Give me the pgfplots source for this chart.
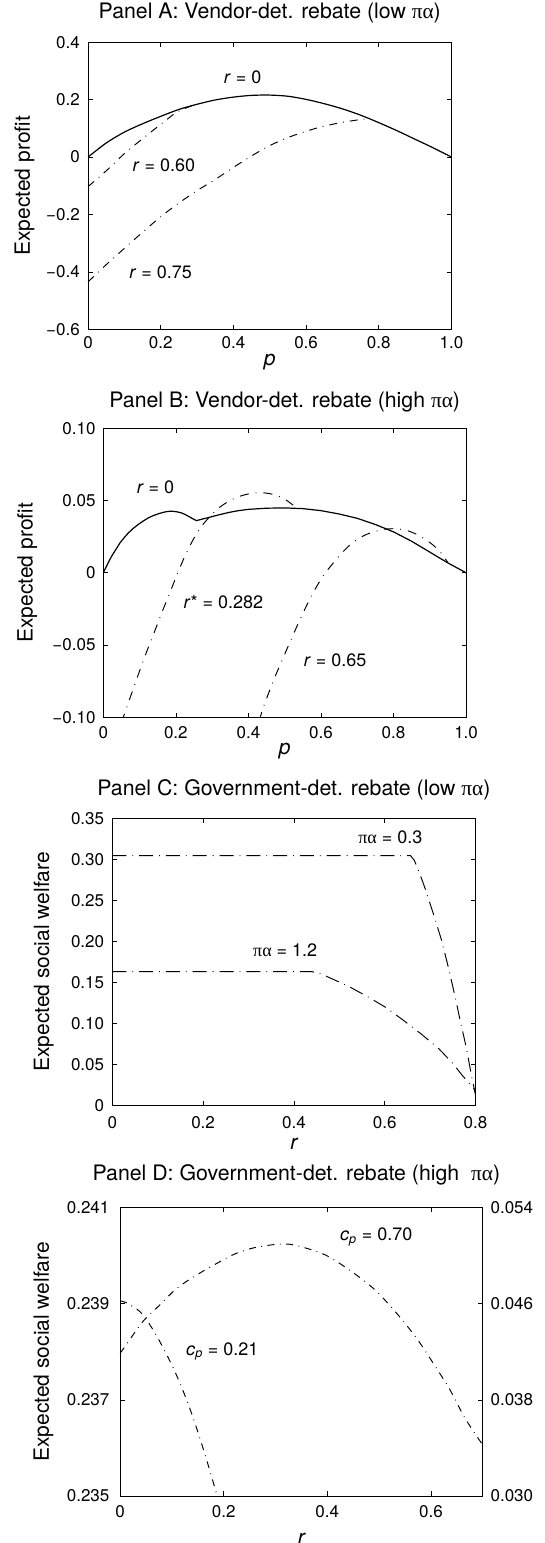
\documentclass[border=0pt]{standalone}
\usepackage{pgfplots}
\pgfplotsset{compat=1.18}
\usepackage{fontspec}
\setmainfont{TeX Gyre Heros}
\newfontfamily\plainfont{TeX Gyre Heros}
\newfontfamily\greek{Liberation Serif}
\newcommand{\pa}{{\greek πα}}
\newcommand{\annfont}{\fontsize{18}{21}\selectfont}
\pgfplotsset{
  panel/.style={
    scale only axis,
    anchor=south west,
    tick align=inside,
    major tick length=4.5pt,
    scaled ticks=false,
    axis line style={line width=0.8pt},
    every tick/.style={line width=0.7pt, black},
    ticklabel style={font=\fontsize{17}{19}\selectfont},
    xticklabel style={inner ysep=0pt},
    yticklabel style={inner xsep=0pt},
    title style={font=\fontsize{21.3}{24}\selectfont, at={(0.5,1)}, anchor=base},
    ylabel style={font=\plainfont\fontsize{21}{24}\selectfont, anchor=center},
    xlabel style={font=\fontsize{21}{24}\selectfont\itshape, at={(axis description cs:0.5,0)}, anchor=base},
  },
  solidc/.style={line width=1.2pt, black},
  dda/.style={line width=0.95pt, black, dash pattern=on 8pt off 6pt on 0.8pt off 6pt},
  ddb/.style={line width=0.95pt, black, dash pattern=on 9pt off 7pt on 0.8pt off 7pt},
  ddc/.style={line width=0.95pt, black, dash pattern=on 14pt off 6pt on 0.8pt off 6pt},
  ddd/.style={line width=0.95pt, black, dash pattern=on 7pt off 5.5pt on 0.8pt off 5.5pt},
}
\begin{document}
\begin{tikzpicture}
\useasboundingbox (0,0) rectangle (544pt,1543pt);
% ---------------- Panel A ----------------
\begin{axis}[panel, at={(88pt,1213.7pt)}, width=363.5pt, height=287pt,
  xmin=0, xmax=1, ymin=-0.6, ymax=0.4,
  xtick={0,0.2,0.4,0.6,0.8,1}, xticklabels={0,0.2,0.4,0.6,0.8,1.0},
  ytick={-0.6,-0.4,-0.2,0,0.2,0.4}, yticklabels={−0.6,−0.4,−0.2,0,0.2,0.4},
  xticklabel style={yshift=-7.4pt}, yticklabel style={xshift=-8pt},
  title={Panel A: Vendor-det. rebate (low \pa)}, title style={yshift=17.3pt},
  xlabel={p}, xlabel style={yshift=-36.7pt},
  ylabel={Expected profit}, ylabel style={at={(axis description cs:-0.175,0.5)}},
]
\addplot[solidc, smooth] coordinates {(0,0) (0.05,0.049) (0.1,0.087) (0.15,0.116) (0.2,0.142) (0.25,0.166) (0.3,0.184) (0.35,0.199) (0.4,0.209) (0.45,0.215) (0.5,0.216) (0.55,0.212) (0.6,0.201) (0.65,0.186) (0.7,0.168) (0.75,0.146) (0.8,0.12) (0.85,0.092) (0.9,0.062) (0.95,0.032) (1,0)};
\addplot[dda, smooth] coordinates {(0,-0.103) (0.05,-0.048) (0.1,0.012) (0.15,0.064) (0.2,0.114) (0.239,0.152) (0.26,0.166) (0.29,0.181)};
\addplot[dda, smooth] coordinates {(0,-0.435) (0.05,-0.375) (0.1,-0.318) (0.15,-0.262) (0.2,-0.208) (0.25,-0.16) (0.3,-0.117) (0.35,-0.078) (0.4,-0.036) (0.45,0.004) (0.5,0.04) (0.55,0.068) (0.6,0.09) (0.65,0.108) (0.7,0.121) (0.75,0.131) (0.775,0.134)};
\node[anchor=base west, font=\annfont] at (axis cs:0.364,0.256) {\textit{r} = 0};
\node[anchor=base west, font=\annfont] at (axis cs:0.113,-0.049) {\textit{r} = 0.60};
\node[anchor=base west, font=\annfont] at (axis cs:0.104,-0.423) {\textit{r} = 0.75};
\end{axis}
% ---------------- Panel B ----------------
\begin{axis}[panel, at={(103.3pt,825.7pt)}, width=362.8pt, height=289pt,
  xmin=0, xmax=1, ymin=-0.1, ymax=0.1,
  xtick={0,0.2,0.4,0.6,0.8,1}, xticklabels={0,0.2,0.4,0.6,0.8,1.0},
  ytick={-0.1,-0.05,0,0.05,0.1}, yticklabels={−0.10,−0.05,0,0.05,0.10},
  xticklabel style={yshift=-9.4pt}, yticklabel style={xshift=-7.6pt},
  title={Panel B: Vendor-det. rebate (high \pa)}, title style={yshift=15.2pt},
  xlabel={p}, xlabel style={yshift=-37pt},
  ylabel={Expected profit}, ylabel style={at={(axis description cs:-0.21,0.5)}},
]
\addplot[solidc] coordinates {(0,0) (0.012,0.0062) (0.023,0.0115) (0.035,0.0163) (0.046,0.0207) (0.058,0.0244) (0.069,0.0276) (0.082,0.0306) (0.096,0.0334) (0.11,0.0358) (0.124,0.038) (0.137,0.0395) (0.15,0.0407) (0.162,0.0416) (0.174,0.0423) (0.184,0.0426) (0.194,0.0425) (0.205,0.0421) (0.216,0.0414) (0.226,0.0403) (0.236,0.0389) (0.246,0.0375) (0.257,0.0361) (0.27,0.0370) (0.285,0.0379) (0.3,0.0389) (0.32,0.0402) (0.345,0.0417) (0.37,0.0429) (0.4,0.0439) (0.45,0.0447) (0.5,0.0449) (0.55,0.0444) (0.6,0.0430) (0.65,0.0407) (0.7,0.0377) (0.75,0.0334) (0.8,0.0283) (0.85,0.0218) (0.9,0.0143) (0.95,0.0068) (1,0)};
\addplot[ddb, smooth] coordinates {(0.05,-0.1035) (0.0645,-0.0932) (0.09,-0.075) (0.115,-0.0576) (0.14,-0.0415) (0.161,-0.0278) (0.185,-0.0128) (0.207,0.0011) (0.23,0.0143) (0.253,0.0253) (0.275,0.0335) (0.299,0.0403) (0.32,0.0452) (0.345,0.0494) (0.37,0.0524) (0.4,0.0546) (0.43,0.0555) (0.46,0.0547) (0.485,0.0528) (0.505,0.0502) (0.52,0.0474) (0.535,0.0449)};
\addplot[ddb, smooth] coordinates {(0.43,-0.1025) (0.441,-0.0932) (0.47,-0.074) (0.496,-0.0587) (0.52,-0.0448) (0.542,-0.0325) (0.565,-0.0203) (0.588,-0.0095) (0.61,-0.0008) (0.634,0.0068) (0.657,0.0135) (0.68,0.0193) (0.703,0.0236) (0.726,0.0266) (0.75,0.0287) (0.772,0.0300) (0.795,0.0305) (0.818,0.0302) (0.84,0.0290) (0.864,0.0266) (0.887,0.0232) (0.91,0.0190) (0.93,0.0140) (0.95,0.0070)};
\node[anchor=base west, font=\annfont] at (axis cs:0.0825,0.055) {\textit{r} = 0};
\node[anchor=base west, font=\annfont] at (axis cs:0.212,-0.0248) {\textit{r}* = 0.282};
\node[anchor=base west, font=\annfont] at (axis cs:0.543,-0.0647) {\textit{r} = 0.65};
\end{axis}
% ---------------- Panel C ----------------
\begin{axis}[panel, at={(112.3pt,437.3pt)}, width=363.2pt, height=287.4pt,
  xmin=0, xmax=0.8, ymin=0, ymax=0.35,
  xtick={0,0.2,0.4,0.6,0.8}, xticklabels={0,0.2,0.4,0.6,0.8},
  ytick={0,0.05,0.1,0.15,0.2,0.25,0.3,0.35}, yticklabels={0,0.05,0.10,0.15,0.20,0.25,0.30,0.35},
  xticklabel style={yshift=-11pt}, yticklabel style={xshift=-8pt},
  title={Panel C: Government-det. rebate (low \pa)}, title style={yshift=16.6pt},
  xlabel={r}, xlabel style={yshift=-44pt},
  ylabel={Expected social welfare}, ylabel style={at={(axis description cs:-0.189,0.5)}},
]
\addplot[ddc] coordinates {(0,0.3045) (0.657,0.3045) (0.665,0.299) (0.675,0.286) (0.69,0.263) (0.707,0.234) (0.725,0.202) (0.74,0.169) (0.755,0.133) (0.765,0.107) (0.78,0.07) (0.79,0.04) (0.8,0.013)};
\addplot[ddc] coordinates {(0,0.1632) (0.44,0.1632) (0.46,0.1605) (0.48,0.1555) (0.52,0.1455) (0.56,0.1335) (0.6,0.1205) (0.64,0.1045) (0.68,0.0875) (0.72,0.069) (0.75,0.0515) (0.77,0.0375) (0.785,0.028) (0.8,0.018)};
\node[anchor=base west, font=\annfont] at (axis cs:0.534,0.3196) {\pa{} = 0.3};
\node[anchor=base west, font=\annfont] at (axis cs:0.3025,0.1815) {\pa{} = 1.2};
\end{axis}
% ---------------- Panel D ----------------
\begin{axis}[panel, at={(120pt,47pt)}, width=362.8pt, height=288.3pt,
  xmin=0, xmax=0.7, ymin=0.235, ymax=0.241,
  xtick={0,0.2,0.4,0.6}, xticklabels={0,0.2,0.4,0.6},
  ytick={0.235,0.237,0.239,0.241}, yticklabels={0.235,0.237,0.239,0.241},
  ytick pos=left,
  xticklabel style={yshift=-9pt}, yticklabel style={xshift=-10.4pt},
  title={Panel D: Government-det. rebate (high\ \ \pa)}, title style={yshift=21.5pt, xshift=-5pt},
  xlabel={r}, xlabel style={yshift=-48pt},
  ylabel={Expected social welfare}, ylabel style={at={(axis description cs:-0.211,0.5)}},
]
\addplot[ddd, smooth] coordinates {(0,0.23797) (0.0096,0.23811) (0.0322,0.23846) (0.0482,0.23868) (0.0772,0.23898) (0.1094,0.23932) (0.148,0.2396) (0.1866,0.23984) (0.222,0.24004) (0.26,0.24017) (0.3054,0.24024) (0.3377,0.24022) (0.3955,0.24002) (0.447,0.23967) (0.492,0.23929) (0.534,0.2388) (0.5725,0.23828) (0.6045,0.23776) (0.6367,0.23721) (0.6656,0.23662) (0.7,0.23606)};
\node[anchor=base west, font=\annfont] at (axis cs:0.418,0.24031) {\textit{c}\textsubscript{\textit{p}} = 0.70};
\node[anchor=base west, font=\annfont] at (axis cs:0.121,0.237934) {\textit{c}\textsubscript{\textit{p}} = 0.21};
\end{axis}
\begin{axis}[panel, at={(120pt,47pt)}, width=362.8pt, height=288.3pt,
  xmin=0, xmax=0.7, ymin=0.030, ymax=0.054,
  axis x line=none, axis y line*=right,
  ytick={0.030,0.038,0.046,0.054}, yticklabels={0.030,0.038,0.046,0.054},
  yticklabel style={xshift=7.6pt},
]
\addplot[ddd, smooth] coordinates {(0,0.04624) (0.0129,0.04608) (0.0386,0.045344) (0.0579,0.044236) (0.0804,0.042572) (0.106,0.040348) (0.1287,0.037992) (0.149,0.035492) (0.1672,0.032996) (0.1833,0.03064) (0.19,0.02972)};
\end{axis}
\end{tikzpicture}
\end{document}
